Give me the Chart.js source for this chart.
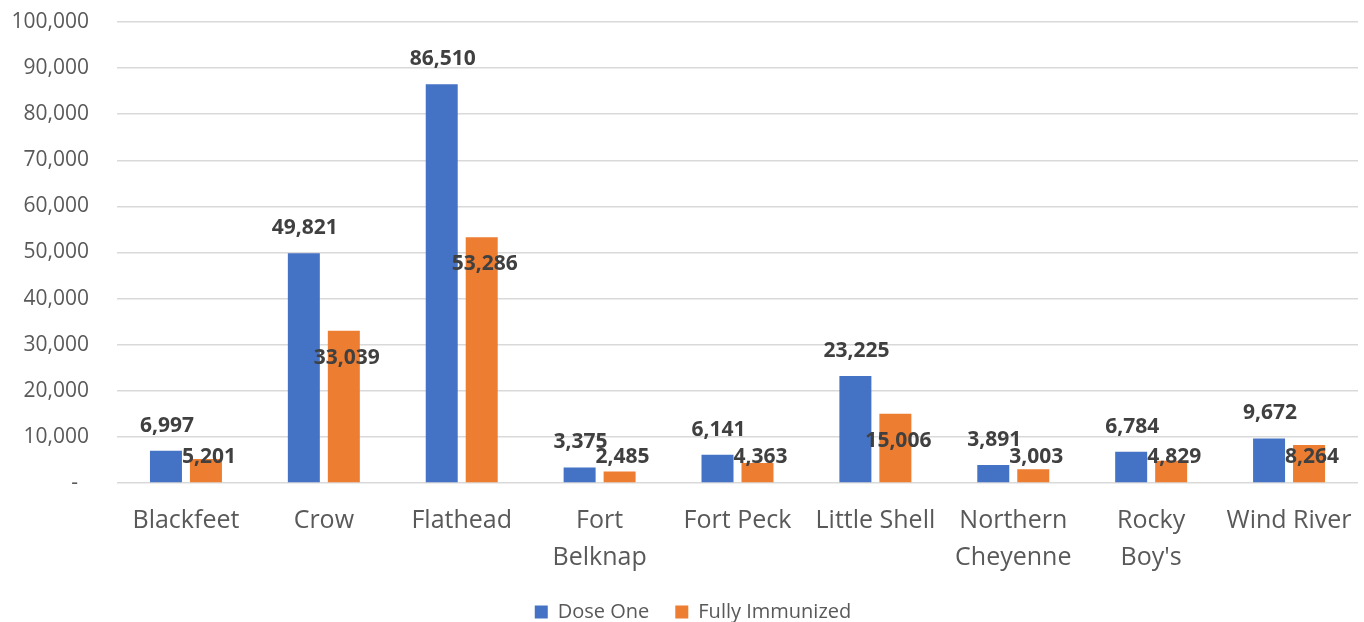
<!DOCTYPE html>
<html lang="en">
<head>
    <meta charset="UTF-8">
    <title>Doses by reservation</title>
    <script src="https://cdn.jsdelivr.net/npm/chart.js@4.4.0/dist/chart.umd.min.js"></script>
    <style>
        html, body { margin: 0; padding: 0; background: #fff; }
        .graph { width: 1364px; height: 622px; }
    </style>
</head>
<body>
    <div class="graph">
        <canvas id="canvas_grafico"></canvas>
    </div>

<script>
    // dados
    const categorias = ['Blackfeet', 'Crow', 'Flathead', ['Fort', 'Belknap'], 'Fort Peck',
        'Little Shell', ['Northern', 'Cheyenne'], ['Rocky', "Boy's"], 'Wind River'];
    const doseUm = [6997, 49821, 86510, 3375, 6141, 23225, 3891, 6784, 9672];
    const imunizados = [5201, 33039, 53286, 2485, 4363, 15006, 3003, 4829, 8264];
    const ticksY = [0, 10000, 20000, 30000, 40000, 50000, 60000, 70000, 80000, 90000, 100000];

    const fonte = "'Open Sans', 'Noto Sans', sans-serif";

    // rótulos de dados no estilo do Excel + rótulos do eixo y
    const rotulos = {
        id: 'rotulos',
        afterDatasetsDraw(chart) {
            const ctx = chart.ctx;
            const y = chart.scales.y;
            const base = y.getPixelForValue(0);
            ctx.save();
            ctx.font = 'bold 21px ' + fonte;
            ctx.fillStyle = '#404040';
            ctx.textAlign = 'center';
            ctx.textBaseline = 'middle';
            chart.data.datasets.forEach(function (ds, i) {
                chart.getDatasetMeta(i).data.forEach(function (bar, j) {
                    const txt = ds.data[j].toLocaleString('en-US');
                    if (i === 0) {
                        ctx.fillText(txt, bar.x + 1, bar.y - 25);
                    } else {
                        ctx.fillText(txt, bar.x + 3, Math.min(bar.y + 27, base - 26));
                    }
                });
            });

            ctx.font = '21px ' + fonte;
            ctx.fillStyle = '#595959';
            ctx.textAlign = 'right';
            ticksY.forEach(function (v) {
                const txt = v === 0 ? '-  ' : v.toLocaleString('en-US');
                ctx.fillText(txt, y.right - 28, y.getPixelForValue(v));
            });
            ctx.restore();
        }
    };

    const ctx = document.getElementById('canvas_grafico').getContext('2d');
    let myChart = new Chart(ctx, {
        type: 'bar',
        data: {
            labels: categorias,
            datasets: [{
                label: 'Dose One',
                data: doseUm,
                backgroundColor: '#4472C4'
            }, {
                label: 'Fully Immunized',
                data: imunizados,
                backgroundColor: '#ED7D31'
            }]
        },
        options: {
            responsive: true,
            maintainAspectRatio: false,
            animation: false,
            categoryPercentage: 0.58,
            barPercentage: 0.8,
            layout: {
                autoPadding: false,
                padding: { top: 22, right: 6, left: 28, bottom: -10 }
            },
            plugins: {
                tooltip: { enabled: false },
                legend: {
                    position: 'bottom',
                    labels: {
                        boxWidth: 13,
                        boxHeight: 13,
                        padding: 0,
                        color: '#595959',
                        font: { family: fonte, size: 20 },
                        generateLabels: function (chart) {
                            const itens = Chart.defaults.plugins.legend.labels.generateLabels(chart);
                            itens[0].text = itens[0].text + '     ';
                            return itens;
                        }
                    }
                }
            },
            scales: {
                x: {
                    grid: { display: false },
                    border: { display: false },
                    afterFit: function (scale) { scale.height = 119; },
                    ticks: {
                        color: '#595959',
                        padding: 12,
                        maxRotation: 0,
                        autoSkip: false,
                        font: { family: fonte, size: 25, lineHeight: 1.45 }
                    }
                },
                y: {
                    min: 0,
                    max: 100000,
                    afterFit: function (scale) { scale.width = 89; },
                    afterBuildTicks: function (scale) {
                        scale.ticks = ticksY.map(function (v) { return { value: v }; });
                    },
                    grid: { color: '#D9D9D9', lineWidth: 1.5, drawTicks: false },
                    border: { display: false },
                    ticks: { display: false, padding: 0 }
                }
            }
        },
        plugins: [rotulos]
    });
</script>
</body>
</html>
